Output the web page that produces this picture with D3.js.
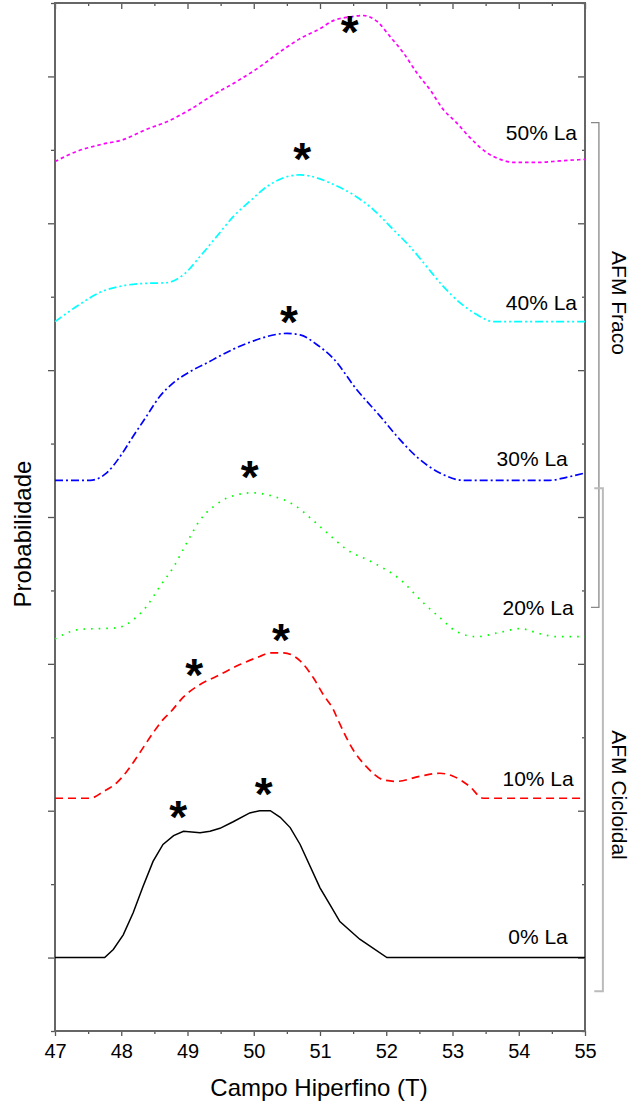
<!DOCTYPE html>
<html><head><meta charset="utf-8">
<script src="https://cdn.jsdelivr.net/npm/d3@7/dist/d3.min.js"></script>
<style>
html,body{margin:0;padding:0;background:#fff;}
svg{display:block;font-family:"Liberation Sans",Arial,sans-serif;}
</style></head>
<body>
<svg id="chart" width="632" height="1108"></svg>
<script>
// ---- data ----
const xTicks = [47, 48, 49, 50, 51, 52, 53, 54, 55];
const seriesNames = ["0% La", "10% La", "20% La", "30% La", "40% La", "50% La"];
const seriesColors = ["#000000", "#ff0000", "#00ff00", "#0000ff", "#00ffff", "#ff00ff"];
const seriesDash = [null, "8,5", "1.6,6", "8,3,2,3", "8,3,2,3,2,3", "3.5,3"];

const s0x = [47, 47.75, 47.88, 48.03, 48.18, 48.33, 48.48, 48.63, 48.79, 48.94, 49.19, 49.34, 49.49, 49.69, 49.94, 50.09, 50.25, 50.40, 50.55, 50.70, 51.0, 51.15, 51.30, 51.60, 52.01, 55];
const s0y = [0, 0, 0.11, 0.31, 0.61, 0.97, 1.31, 1.54, 1.66, 1.72, 1.70, 1.72, 1.76, 1.85, 1.97, 2.00, 2.00, 1.91, 1.77, 1.54, 0.95, 0.72, 0.49, 0.25, 0, 0];

const s10x = [47, 47.53, 47.73, 47.93, 48.08, 48.28, 48.48, 48.63, 48.74, 48.94, 49.19, 49.44, 49.79, 50.09, 50.25, 50.45, 50.70, 50.90, 51.05, 51.20, 51.27, 51.50, 51.70, 51.96, 52.16, 52.51, 52.81, 53.01, 53.26, 53.46, 55];
const s10y = [2.17, 2.17, 2.26, 2.38, 2.53, 2.79, 3.06, 3.24, 3.34, 3.55, 3.72, 3.83, 3.99, 4.10, 4.15, 4.15, 4.04, 3.81, 3.58, 3.38, 3.24, 2.83, 2.60, 2.42, 2.40, 2.47, 2.51, 2.47, 2.33, 2.17, 2.17];

const s20x = [47, 47.38, 47.93, 48.18, 48.38, 48.58, 48.79, 48.99, 49.19, 49.39, 49.69, 49.99, 50.30, 50.60, 50.90, 51.10, 51.40, 51.80, 52.21, 52.56, 52.81, 53.06, 53.36, 53.72, 54.02, 54.32, 54.57, 55];
const s20y = [4.34, 4.47, 4.49, 4.60, 4.78, 5.05, 5.32, 5.65, 5.96, 6.14, 6.29, 6.33, 6.28, 6.17, 5.95, 5.79, 5.56, 5.38, 5.15, 4.83, 4.63, 4.44, 4.37, 4.43, 4.48, 4.41, 4.37, 4.37];

const s30x = [47, 47.53, 47.78, 47.98, 48.18, 48.38, 48.58, 48.79, 49.04, 49.34, 49.44, 49.94, 50.50, 50.70, 50.95, 51.20, 51.55, 51.91, 52.21, 52.46, 52.81, 53.16, 54.47, 54.72, 55];
const s30y = [6.50, 6.50, 6.60, 6.82, 7.10, 7.37, 7.64, 7.83, 7.98, 8.12, 8.17, 8.38, 8.50, 8.48, 8.35, 8.16, 7.74, 7.37, 7.05, 6.82, 6.60, 6.50, 6.50, 6.54, 6.60];

const s40x = [47, 47.33, 47.68, 48.03, 48.33, 48.68, 48.94, 49.19, 49.44, 49.69, 49.94, 50.20, 50.45, 50.70, 50.95, 51.20, 51.50, 51.80, 52.11, 52.36, 52.61, 52.86, 53.11, 53.36, 53.62, 55];
const s40y = [8.66, 8.87, 9.06, 9.15, 9.18, 9.19, 9.30, 9.55, 9.82, 10.09, 10.30, 10.50, 10.62, 10.66, 10.62, 10.53, 10.39, 10.19, 9.91, 9.68, 9.41, 9.14, 8.92, 8.76, 8.66, 8.66];

const s50x = [47, 47.33, 47.68, 48.03, 48.38, 48.68, 49.04, 49.39, 49.74, 50.09, 50.45, 50.75, 51.0, 51.20, 51.45, 51.65, 51.86, 52.06, 52.26, 52.46, 52.66, 52.86, 53.06, 53.26, 53.52, 53.72, 53.92, 54.32, 54.62, 55];
const s50y = [10.84, 10.98, 11.07, 11.14, 11.28, 11.38, 11.55, 11.75, 11.93, 12.13, 12.37, 12.54, 12.65, 12.76, 12.81, 12.83, 12.75, 12.54, 12.32, 12.05, 11.82, 11.55, 11.37, 11.17, 10.96, 10.87, 10.83, 10.83, 10.85, 10.87];

// label anchors (data units)
const labelX = [54.74, 54.83, 54.83, 54.74, 54.88, 54.88];
const labelY = [0.18, 2.33, 4.67, 6.69, 8.82, 11.14];

// peak markers (asterisks), data units
const starX = [48.86, 50.15, 49.10, 50.41, 49.94, 50.53, 50.73, 51.45];
const starY = [2.02, 2.33, 3.96, 4.44, 6.65, 8.76, 10.98, 12.71];

// groups (brackets)
const groupNames = ["AFM Fraco", "AFM Cicloidal"];
const groupTop = [11.37, 6.39];
const groupBottom = [4.77, -0.46];

// ---- drawing ----
const svg = d3.select("#chart");
const L = 55, R = 585, T = 3, B = 1031;
const x = d3.scaleLinear().domain([47, 55]).range([L, R]);
const y = d3.scaleLinear().domain([-1, 13]).range([B, T]);

const axisColor = "#555";
const yTickVals = d3.range(-1, 14, 1);
const xMinor = d3.range(47.5, 55, 1);

function styleAxis(g) {
  g.select(".domain").remove();
  g.selectAll("line").attr("stroke", axisColor).attr("stroke-width", 1.3);
  g.selectAll("text").attr("fill", "#000");
}

// bottom axis
const gB = svg.append("g").attr("transform", `translate(0,${B})`)
  .call(d3.axisBottom(x).tickValues(xTicks).tickSize(5).tickPadding(8).tickFormat(d3.format("d")));
styleAxis(gB);
gB.selectAll("text").attr("font-size", 20).attr("font-family", "Liberation Sans, Arial, sans-serif");
svg.append("g").attr("transform", `translate(0,${B})`)
  .call(d3.axisBottom(x).tickValues(xMinor).tickSize(3).tickFormat(""))
  .call(styleAxis);
// top axis (inward)
svg.append("g").attr("transform", `translate(0,${T})`)
  .call(d3.axisBottom(x).tickValues(xTicks).tickSize(6).tickFormat(""))
  .call(styleAxis);
svg.append("g").attr("transform", `translate(0,${T})`)
  .call(d3.axisBottom(x).tickValues(xMinor).tickSize(3).tickFormat(""))
  .call(styleAxis);
// left axis (outward)
svg.append("g").attr("transform", `translate(${L},0)`)
  .call(d3.axisLeft(y).tickValues(yTickVals.filter(v => v % 2 === 0)).tickSize(7).tickFormat(""))
  .call(styleAxis);
svg.append("g").attr("transform", `translate(${L},0)`)
  .call(d3.axisLeft(y).tickValues(yTickVals.filter(v => v % 2 !== 0)).tickSize(4).tickFormat(""))
  .call(styleAxis);
// right axis (inward)
svg.append("g").attr("transform", `translate(${R},0)`)
  .call(d3.axisLeft(y).tickValues(yTickVals.filter(v => v % 2 === 0)).tickSize(7).tickFormat(""))
  .call(styleAxis);
svg.append("g").attr("transform", `translate(${R},0)`)
  .call(d3.axisLeft(y).tickValues(yTickVals.filter(v => v % 2 !== 0)).tickSize(3).tickFormat(""))
  .call(styleAxis);

// frame
svg.append("rect").attr("x", L).attr("y", T).attr("width", R - L).attr("height", B - T)
  .attr("fill", "none").attr("stroke", "#666").attr("stroke-width", 2);

// series
const allX = [s0x, s10x, s20x, s30x, s40x, s50x];
const allY = [s0y, s10y, s20y, s30y, s40y, s50y];
const line = d3.line().x(d => x(d[0])).y(d => y(d[1]));
allX.forEach((xs, i) => {
  const pts = xs.map((v, j) => [v, allY[i][j]]);
  const p = svg.append("path")
    .attr("d", line.curve(i === 0 ? d3.curveLinear : d3.curveMonotoneX)(pts))
    .attr("fill", "none")
    .attr("stroke", seriesColors[i])
    .attr("stroke-width", i === 0 ? 1.5 : 1.7);
  if (seriesDash[i]) p.attr("stroke-dasharray", seriesDash[i]);
});

// series labels
svg.append("g").selectAll("text").data(seriesNames).join("text")
  .attr("x", (d, i) => x(labelX[i]))
  .attr("y", (d, i) => y(labelY[i]))
  .attr("text-anchor", "end")
  .attr("font-size", 21)
  .attr("fill", "#000")
  .text(d => d);

// asterisks
svg.append("g").selectAll("text").data(starX).join("text")
  .attr("x", (d) => x(d))
  .attr("y", (d, i) => y(starY[i]) + 24)
  .attr("text-anchor", "middle")
  .attr("font-size", 46)
  .attr("font-weight", "bold")
  .attr("fill", "#000")
  .text("*");

// brackets
const bx = [55.21, 55.27], bxIn = [55.09, 55.14];
const bColors = ["#888", "#bbb"], bWidth = [1.3, 2];
groupNames.forEach((g, i) => {
  const path = d3.path();
  path.moveTo(x(bxIn[i]), y(groupTop[i]));
  path.lineTo(x(bx[i]), y(groupTop[i]));
  path.lineTo(x(bx[i]), y(groupBottom[i]));
  path.lineTo(x(bxIn[i]), y(groupBottom[i]));
  svg.append("path").attr("d", path.toString()).attr("fill", "none")
    .attr("stroke", bColors[i]).attr("stroke-width", bWidth[i]);
});
const gTextPos = [303, 795];
groupNames.forEach((g, i) => {
  svg.append("text")
    .attr("transform", `translate(612,${gTextPos[i]}) rotate(90)`)
    .attr("text-anchor", "middle")
    .attr("font-size", 21)
    .attr("fill", "#000")
    .text(g);
});

// axis titles
svg.append("text").attr("x", (L + R) / 2 - 1).attr("y", 1096)
  .attr("text-anchor", "middle").attr("font-size", 24).attr("fill", "#000")
  .text("Campo Hiperfino (T)");
svg.append("text").attr("transform", `translate(31,534) rotate(-90)`)
  .attr("text-anchor", "middle").attr("font-size", 24).attr("fill", "#000")
  .text("Probabilidade");
</script>
</body></html>
